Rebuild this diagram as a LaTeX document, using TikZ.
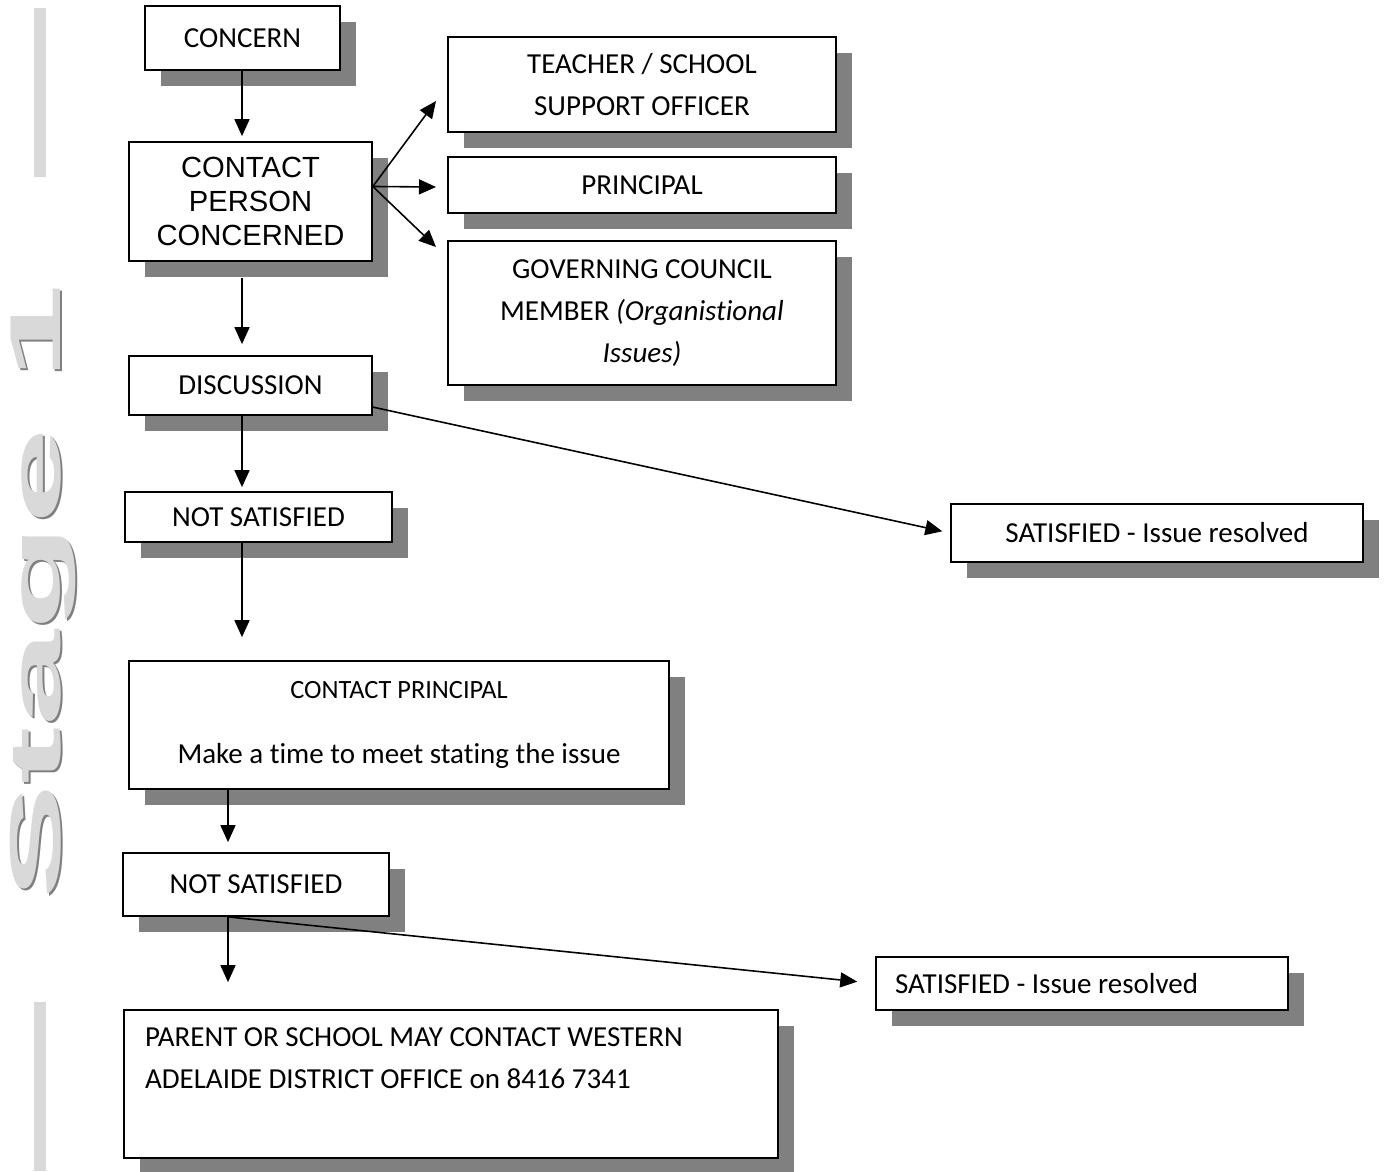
\documentclass[tikz,border=0pt]{standalone}
\usepackage{fontspec}
\setmainfont{Carlito}[Ligatures={NoCommon}]
\newfontfamily\arialfont{Liberation Sans}
\usetikzlibrary{arrows.meta,shadows}

\definecolor{shadegray}{HTML}{808080}
\definecolor{stagegray}{HTML}{D9D9D9}

\tikzset{
  box/.style={draw, fill=white, line width=1pt, inner sep=0pt, align=center,
    font=\fontsize{16.5}{23.9}\selectfont,
    drop shadow={shadow xshift=0.32cm, shadow yshift=-0.32cm, fill=shadegray, opacity=1}},
  arr/.style={line width=0.9pt, -{Triangle[length=0.34cm,width=0.3cm]}},
  stagetext/.style={rotate=90, anchor=base, inner sep=0pt,
    font=\arialfont\bfseries\fontsize{41}{41}\selectfont},
}

\begin{document}
\begin{tikzpicture}[x=0.02cm, y=-0.02cm]
\useasboundingbox (0,0) rectangle (1386,1171);

% stage banner
\fill[stagegray] (34,8) rectangle (46,177);
\fill[stagegray] (34,1002) rectangle (46,1171);
\node[stagetext, text=shadegray] (stageshade) at (62,594) {\scalebox{2.4}[1]{Stage 1}};
\node[stagetext, text=stagegray] (stage) at (60,592) {\scalebox{2.4}[1]{Stage 1}};

% boxes
\node[box, minimum width=3.9cm, minimum height=1.28cm] (concern) at (242.5,38) {CONCERN};
\node[box, minimum width=4.86cm, minimum height=2.38cm, font=\arialfont\fontsize{16.6}{19.3}\selectfont] (contact) at (250.5,201.5) {CONTACT\\PERSON\\CONCERNED};
\node[box, minimum width=7.76cm, minimum height=1.9cm] (teacher) at (642,84.5) {TEACHER / SCHOOL\\SUPPORT OFFICER};
\node[box, minimum width=7.76cm, minimum height=1.12cm] (principal) at (642,185) {PRINCIPAL};
\node[box, minimum width=7.76cm, minimum height=2.88cm] (council) at (642,313) {GOVERNING COUNCIL\\MEMBER {\itshape (Organistional}\\{\itshape Issues)}};
\node[box, minimum width=4.86cm, minimum height=1.18cm] (discussion) at (250.5,385.5) {DISCUSSION};
\node[box, minimum width=5.34cm, minimum height=1.0cm] (notsat1) at (258.5,517) {NOT SATISFIED};
\node[box, minimum width=8.24cm, minimum height=1.16cm] (sat1) at (1157,533) {SATISFIED - Issue resolved};
\node[box, minimum width=10.8cm, minimum height=2.56cm] (meet) at (399,725) {{\fontsize{15}{18}\selectfont CONTACT PRINCIPAL}\\[13pt]Make a time to meet stating the issue};
\node[box, minimum width=5.32cm, minimum height=1.26cm] (notsat2) at (256,884.5) {NOT SATISFIED};
\node[box, minimum width=8.24cm, minimum height=1.06cm, text width=7.48cm, align=flush left] (sat2) at (1082,983.5) {SATISFIED - Issue resolved};
\node[box, minimum width=13.08cm, minimum height=2.96cm, text width=12.24cm, align=flush left] (parent) at (451,1084) {PARENT OR SCHOOL MAY CONTACT WESTERN\\ADELAIDE DISTRICT OFFICE on 8416 7341\\[6pt]\mbox{}};

% connectors
\coordinate (spine) at (242,0);
\coordinate (spinelow) at (228,0);
\coordinate (tipA) at (436,101);
\coordinate (tipB) at (436,187);
\coordinate (tipC) at (436,247);

\draw[arr, shorten >=0.1cm] (spine |- concern.south) -- (spine |- contact.north);
\draw[arr] (contact.7) -- (tipA);
\draw[arr] (contact.7) -- (tipB);
\draw[arr] (contact.7) -- (tipC);
\draw[arr, shorten <=0.32cm, shorten >=0.22cm] (spine |- contact.south) -- (spine |- discussion.north);
\draw[arr, shorten >=0.08cm] (spine |- discussion.south) -- (spine |- notsat1.north);
\draw[arr, shorten >=0.16cm] (discussion.-10) -- (sat1.west);
\draw[arr, shorten >=0.46cm] (spine |- notsat1.south) -- (spine |- meet.north);
\draw[arr, shorten >=0.2cm] (spinelow |- meet.south) -- (spinelow |- notsat2.north);
\draw[arr, shorten >=0.54cm] (spinelow |- notsat2.south) -- (spinelow |- parent.north);
\draw[arr, shorten >=0.36cm] (spinelow |- notsat2.south) -- (sat2.west);

\end{tikzpicture}
\end{document}
